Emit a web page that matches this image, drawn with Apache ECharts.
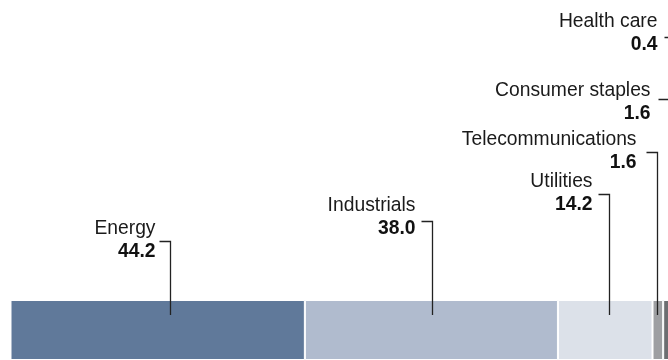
<!DOCTYPE html>
<html>
<head>
<meta charset="utf-8">
<script src="https://cdn.jsdelivr.net/npm/echarts@6/dist/echarts.min.js"></script>
<style>html,body{margin:0;padding:0;background:#fff}#c{width:668px;height:360px}</style>
</head>
<body>
<div id="c"></div>
<script>
const categories = ['Energy', 'Industrials', 'Utilities', 'Telecommunications', 'Consumer staples', 'Health care'];
const values = [44.2, 38.0, 14.2, 1.6, 1.6, 0.4];
const valueLabels = ['44.2', '38.0', '14.2', '1.6', '1.6', '0.4'];

// styles / annotation layout (not data)
const colors = ['#60799a', '#b0bbce', '#dce1e9', '#9e9fa2', '#6d6e71', '#4a4b4d'];
const bracketY = [241, 221, 194, 152, 99, 37];      // leader elbow height (px)
const nameY = [228.5, 206, 181.5, 139.5, 91, 22];    // name line centre (px)
const leaderShift = [12, 1, 4, -1, 0, 0];           // leader x nudge (px)
const textGap = [15, 17, 17, 21, 19, 18];           // text right edge to leader (px)

const chart = echarts.init(document.getElementById('c'), null, {renderer: 'canvas'});

const starts = [];
let acc = 0;
values.forEach(v => { starts.push(acc); acc += v; });
const centers = values.map((v, i) => starts[i] + v / 2);

const barSeries = categories.map((name, i) => ({
  name: name,
  type: 'bar',
  stack: 'total',
  barWidth: '100%',
  z: 1,
  data: [values[i]],
  itemStyle: {color: colors[i], borderColor: '#ffffff', borderWidth: 1},
  silent: true,
  animation: false
}));

const FONT = '"Liberation Sans", Arial, sans-serif';

const labelSeries = {
  type: 'custom',
  clip: false,
  silent: true,
  animation: false,
  z: 10,
  data: centers.map((c, i) => [c, 0, i]),
  renderItem: function (params, api) {
    const i = api.value(2);
    const pt = api.coord([api.value(0), 0]);
    const x = Math.round(pt[0] + leaderShift[i]) + 0.5;
    const by = bracketY[i] + 0.5;
    const lineBottom = pt[1] - 15;
    const tx = x - textGap[i];
    return {
      type: 'group',
      children: [
        {
          type: 'polyline',
          shape: {points: [[x - 11, by], [x, by], [x, lineBottom]]},
          style: {stroke: '#222', lineWidth: 1.3, fill: null}
        },
        {
          type: 'text',
          style: {
            x: tx, y: nameY[i],
            text: categories[i],
            font: '19.3px ' + FONT,
            fill: '#1a1a1a', align: 'right', verticalAlign: 'middle'
          }
        },
        {
          type: 'text',
          style: {
            x: tx, y: nameY[i] + 23,
            text: valueLabels[i],
            font: 'bold 19.3px ' + FONT,
            fill: '#111', align: 'right', verticalAlign: 'middle'
          }
        }
      ]
    };
  }
};

chart.setOption({
  animation: false,
  grid: {left: 10.5, width: 666, top: 300, height: 60, containLabel: false, outerBoundsMode: 'none'},
  xAxis: {type: 'value', min: 0, max: 100, show: false},
  yAxis: {type: 'category', data: [''], show: false},
  series: barSeries.concat([labelSeries])
});
</script>
</body>
</html>
